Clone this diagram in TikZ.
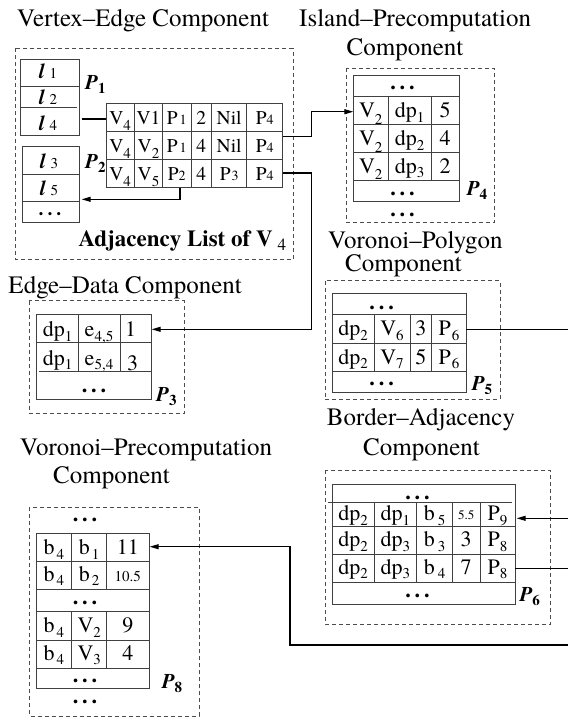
\documentclass[tikz,border=0pt]{standalone}
\usepackage{fontspec}
\setmainfont{texgyretermes}[Extension=.otf, UprightFont=*-regular, BoldFont=*-bold, ItalicFont=*-italic, BoldItalicFont=*-bolditalic]
\usetikzlibrary{arrows.meta}
\newcommand\dn[2][6pt]{\raisebox{-#1}{\fontsize{15}{15}\selectfont #2}}
\newcommand\sm[1]{{\fontsize{14}{14}\selectfont #1}}
\newcommand\dts{{\bfseries .\hspace{4pt}.\hspace{4pt}.}}
\newcommand\lbl[2]{{\fontsize{21}{21}\selectfont\bfseries\itshape #1}\raisebox{-4pt}{\fontsize{15}{15}\selectfont\bfseries #2}}
\newcommand\el[1]{{\fontsize{21}{21}\selectfont\bfseries\itshape l}\hspace{5pt}{\fontsize{15}{15}\selectfont #1}}
\tikzset{
  title/.style={anchor=base west, inner sep=0pt, font=\fontsize{25}{25}\selectfont},
  cellA/.style={anchor=base, inner sep=0pt, font=\fontsize{19.5}{19.5}\selectfont},
  cellB/.style={anchor=base, inner sep=0pt, font=\fontsize{22}{22}\selectfont},
  plabel/.style={anchor=base west, inner sep=0pt},
  tbl/.style={draw=black!75, line width=1pt},
  dbox/.style={draw=black!70, line width=0.8pt, dash pattern=on 4pt off 3pt},
  conn/.style={draw=black, line width=1.1pt},
  arr/.style={-{Triangle[length=9pt,width=5pt]}}
}
\begin{document}
\begin{tikzpicture}[x=1pt,y=-1pt]
\useasboundingbox (0,0) rectangle (568,718);

% ---------- titles ----------
\node[title] (t1) at (17,26.7) {Vertex–Edge Component};
\node[title] (t2) at (299,26.7) {Island–Precomputation};
\node[title] (t2b) at (346.5,55) {Component};
\node[title] (t3) at (328,248.3) {Voronoi–Polygon};
\node[title] (t3b) at (345,271) {Component};
\node[title] (t4) at (8.3,293.3) {Edge–Data Component};
\node[title] (t5) at (326.7,425.5) {Border–Adjacency};
\node[title] (t5b) at (363,455) {Component};
\node[title] (t6) at (20,455) {Voronoi–Precomputation};
\node[title] (t6b) at (53,483.3) {Component};

% ---------- Vertex-Edge component ----------
\draw[dbox] (15,48.3) rectangle (293,259.5);
% list P1
\draw[tbl] (20.7,59.3) rectangle (79,135);
\draw[tbl] (20.7,86) -- (79,86);
\draw[tbl] (20.7,107.3) -- (77,107.3);
\node[cellA] (la1) at (48,78.3) {\el{1}};
\node[cellA] (la2) at (48,104) {\el{2}};
\node[cellA] (la4) at (48,130.7) {\el{4}};
% list P2
\draw[tbl] (22.3,146.7) rectangle (79.3,222.7);
\draw[tbl] (22.3,174) -- (79.3,174);
\draw[tbl] (22.3,201.7) -- (79.3,201.7);
\node[cellA] (lb3) at (49,168.3) {\el{3}};
\node[cellA] (lb5) at (49,195) {\el{5}};
\node[cellA] (lbd) at (50,215) {\dts};
\node[plabel] (p1) at (85,89.5) {\lbl{P}{1}};
\node[plabel] (p2) at (85,168.5) {\lbl{P}{2}};
% adjacency table
\draw[tbl] (106,103.3) rectangle (282.7,187.7);
\foreach \yy in {131.7,159.3} \draw[tbl] (106,\yy) -- (282.7,\yy);
\foreach \xx in {134.3,162.7,191,211.7,246.7} \draw[tbl] (\xx,103.3) -- (\xx,187.7);
\node[cellA] (a11) at (120.2,124) {V\dn{4}};
\node[cellA] (a12) at (148.5,124) {V1};
\node[cellA] (a13) at (176.8,124) {P\hspace{2pt}\sm{1}};
\node[cellA] (a14) at (201.3,124) {2};
\node[cellA] (a15) at (229.2,124) {Nil};
\node[cellA] (a16) at (264.7,124) {P\sm{4}};
\node[cellA] (a21) at (120.2,152) {V\dn{4}};
\node[cellA] (a22) at (148.5,152) {V\dn{2}};
\node[cellA] (a23) at (176.8,152) {P\hspace{2pt}\sm{1}};
\node[cellA] (a24) at (201.3,152) {4};
\node[cellA] (a25) at (229.2,152) {Nil};
\node[cellA] (a26) at (264.7,152) {P\sm{4}};
\node[cellA] (a31) at (120.2,180) {V\dn{4}};
\node[cellA] (a32) at (148.5,180) {V\dn{5}};
\node[cellA] (a33) at (176.8,180) {P\sm{2}};
\node[cellA] (a34) at (201.3,180) {4};
\node[cellA] (a35) at (229.2,180) {P\hspace{1pt}\sm{3}};
\node[cellA] (a36) at (264.7,180) {P\sm{4}};
\node[plabel] (adj) at (78.3,246.7) {{\fontsize{23}{23}\selectfont\bfseries Adjacency List of V}\hspace{5pt}\raisebox{-4pt}{\fontsize{17}{17}\selectfont 4}};

% ---------- Island-Precomputation component ----------
\draw[dbox] (346.7,68.3) rectangle (494.3,222.7);
\draw[tbl] (353.3,75) rectangle (459,201.7);
\foreach \yy in {96.7,124.3,152.3,180.7} \draw[tbl] (353.3,\yy) -- (459,\yy);
\foreach \xx in {388.3,431} \draw[tbl] (\xx,96.7) -- (\xx,180.7);
\node[cellB] (i0) at (402.5,89.5) {\dts};
\node[cellB] (i11) at (370.8,117) {V\dn[7pt]{2}};
\node[cellB] (i12) at (409.7,117) {dp\dn[5pt]{1}};
\node[cellB] (i13) at (445,117) {5};
\node[cellB] (i21) at (370.8,145) {V\dn[7pt]{2}};
\node[cellB] (i22) at (409.7,145) {dp\dn[5pt]{2}};
\node[cellB] (i23) at (445,145) {4};
\node[cellB] (i31) at (370.8,173) {V\dn[6pt]{2}};
\node[cellB] (i32) at (409.7,173) {dp\dn[4pt]{3}};
\node[cellB] (i33) at (445,173) {2};
\node[cellB] (i4) at (402.5,195.5) {\dts};
\node[cellB] (i5) at (402.5,216) {\dts};
\node[plabel] (p4) at (466.7,195) {\lbl{P}{4}};

% ---------- Edge-Data component ----------
\draw[dbox] (29.3,300.7) rectangle (184,413.3);
\draw[tbl] (36,314.3) rectangle (151.7,399);
\draw[tbl] (36,342.7) -- (151.7,342.7);
\draw[tbl] (39.3,371) -- (151.7,371);
\foreach \xx in {78.3,120} \draw[tbl] (\xx,314.3) -- (\xx,371);
\node[cellB] (e11) at (57.5,336.5) {dp\dn[5pt]{1}};
\node[cellB] (e12) at (99,336.5) {e\dn[5pt]{4,5}};
\node[cellB] (e13) at (130.5,336) {1};
\node[cellB] (e21) at (57.5,365) {dp\dn[4pt]{1}};
\node[cellB] (e22) at (99,365) {e\dn[4pt]{5,4}};
\node[cellB] (e23) at (132.5,370) {3};
\node[cellB] (e3) at (94,392) {\dts};
\node[plabel] (p3) at (156,401) {\lbl{P}{3}};

% ---------- Voronoi-Polygon component ----------
\draw[dbox] (325,280.7) rectangle (500,399.3);
\draw[tbl] (332.3,293.3) rectangle (466,392.3);
\foreach \yy in {314.3,343.3,371.7} \draw[tbl] (332.3,\yy) -- (466,\yy);
\foreach \xx in {374,410,431.7} \draw[tbl] (\xx,314.3) -- (\xx,371.7);
\node[cellB] (v0) at (381.7,309) {\dts};
\node[cellB] (v11) at (353.2,335.3) {dp\dn[5pt]{2}};
\node[cellB] (v12) at (392,335.3) {V\dn[5pt]{6}};
\node[cellB] (v13) at (420.9,335.3) {3};
\node[cellB] (v14) at (448.9,335.3) {P\hspace{1pt}\dn[5pt]{6}};
\node[cellB] (v21) at (353.2,364) {dp\dn[4pt]{2}};
\node[cellB] (v22) at (392,364) {V\dn[4pt]{7}};
\node[cellB] (v23) at (420.9,364) {5};
\node[cellB] (v24) at (448.9,364) {P\hspace{1pt}\dn[4pt]{6}};
\node[cellB] (v3) at (381.7,385.5) {\dts};
\node[plabel] (p5) at (471.7,390) {\lbl{P}{5}};

% ---------- Border-Adjacency component ----------
\draw[dbox] (325,470) rectangle (550.7,624);
\draw[tbl] (332.3,484) rectangle (515,604);
\draw[tbl] (328.3,502.3) -- (511.7,502.3);
\foreach \yy in {526,554,582.7} \draw[tbl] (332.3,\yy) -- (515,\yy);
\foreach \xx in {374,416.7,452.3,480} \draw[tbl] (\xx,502.3) -- (\xx,582.7);
\node[cellB] (b0) at (417.5,499) {\dts};
\node[cellB] (b11) at (353.2,520.5) {dp\dn[5pt]{2}};
\node[cellB] (b12) at (395.3,520.5) {dp\dn[5pt]{1}};
\node[cellB] (b13) at (434.5,520.5) {b\hspace{3pt}\dn[5pt]{5}};
\node[cellB] (b14) at (466.2,519.5) {\fontsize{13}{13}\selectfont 5.5};
\node[cellB] (b15) at (497.5,520.5) {P\dn[5pt]{9}};
\node[cellB] (b21) at (353.2,546.5) {dp\dn[5pt]{2}};
\node[cellB] (b22) at (395.3,546.5) {dp\dn[5pt]{3}};
\node[cellB] (b23) at (434.5,546.5) {b\hspace{3pt}\dn[5pt]{3}};
\node[cellB] (b24) at (466.2,546.5) {3};
\node[cellB] (b25) at (497.5,546.5) {P\dn[5pt]{8}};
\node[cellB] (b31) at (353.2,574.3) {dp\dn[4pt]{2}};
\node[cellB] (b32) at (395.3,574.3) {dp\dn[4pt]{3}};
\node[cellB] (b33) at (434.5,574.3) {b\hspace{3pt}\dn[4pt]{4}};
\node[cellB] (b34) at (466.2,574.3) {7};
\node[cellB] (b35) at (497.5,574.3) {P\dn[4pt]{8}};
\node[cellB] (b4) at (417.5,597) {\dts};
\node[plabel] (p6) at (519.3,601.7) {\lbl{P}{6}};

% ---------- Voronoi-Precomputation component ----------
\draw[dbox] (29.3,507.3) rectangle (199,716);
\node[cellB] (c0) at (85,521) {\dts};
\draw[tbl] (36,533.3) rectangle (149,688.3);
\foreach \yy in {561.7,589.3,611,640,668.3} \draw[tbl] (36,\yy) -- (149,\yy);
\foreach \xx in {71.7,106.7} {
  \draw[tbl] (\xx,533.3) -- (\xx,589.3);
  \draw[tbl] (\xx,611) -- (\xx,668.3);
}
\node[cellB] (c11) at (53.8,554) {b\hspace{2pt}\dn[5pt]{4}};
\node[cellB] (c12) at (89.2,554) {b\hspace{2pt}\dn[5pt]{1}};
\node[cellB] (c13) at (127.8,554) {11};
\node[cellB] (c21) at (53.8,581.5) {b\hspace{2pt}\dn[4pt]{4}};
\node[cellB] (c22) at (89.2,581.5) {b\hspace{2pt}\dn[4pt]{2}};
\node[cellB] (c23) at (127.8,581) {\fontsize{15}{15}\selectfont 10.5};
\node[cellB] (c3) at (85,604) {\dts};
\node[cellB] (c41) at (53.8,632) {b\hspace{2pt}\dn[5pt]{4}};
\node[cellB] (c42) at (89.2,632) {V\dn[5pt]{2}};
\node[cellB] (c43) at (127.8,632) {9};
\node[cellB] (c51) at (53.8,660.2) {b\hspace{2pt}\dn[4pt]{4}};
\node[cellB] (c52) at (89.2,660.2) {V\dn[4pt]{3}};
\node[cellB] (c53) at (127.8,660.2) {4};
\node[cellB] (c6) at (85,682) {\dts};
\node[cellB] (c7) at (85,703) {\dts};
\node[plabel] (p8) at (161.7,688) {\lbl{P}{8}};

% ---------- connector end points ----------
\coordinate (la4e) at (81.7,119);
\coordinate (vein) at (106,119);
\coordinate (p2c) at (180,187.7);
\coordinate (lbin) at (81.7,199.3);
\coordinate (ver2) at (282.7,136.7);
\coordinate (isr1) at (353.3,111.7);
\coordinate (ver3) at (282.7,173);
\coordinate (edr1) at (151.7,329.3);
\coordinate (vpr1) at (466,329.3);
\coordinate (out1) at (568,329.3);
\coordinate (in2) at (568,518.3);
\coordinate (bar1) at (516.7,518.3);
\coordinate (bar3) at (515,568.3);
\coordinate (out3) at (568,568.3);
\coordinate (in4) at (568,645);
\coordinate (vcr1) at (149.7,546.7);

% ---------- connectors ----------
\draw[conn] (la4e) -- (vein);
\draw[conn,arr] (p2c) |- (lbin);
\draw[conn,arr] (ver2) -- ++(29,0) |- (isr1);
\draw[conn,arr] (ver3) -- ++(29,0) |- (edr1);
\draw[conn] (vpr1) -- (out1);
\draw[conn,arr] (in2) -- (bar1);
\draw[conn] (bar3) -- (out3);
\draw[conn,arr] (in4) -- ++(-278,0) |- (vcr1);
\end{tikzpicture}
\end{document}
